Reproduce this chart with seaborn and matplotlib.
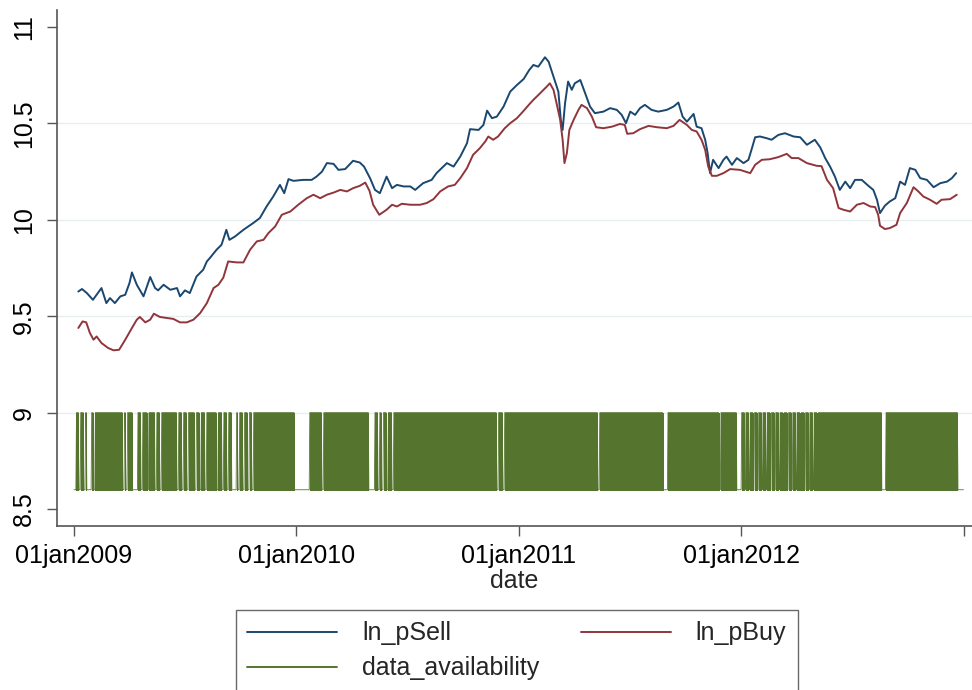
import numpy as np
import pandas as pd
import matplotlib
matplotlib.use("Agg")
import matplotlib.pyplot as plt
from matplotlib.lines import Line2D
import seaborn as sns

# ---- log sell price ----
sell_dates = [
    "2009-01-08", "2009-01-14", "2009-01-22", "2009-02-01", "2009-02-07", "2009-02-15",
    "2009-02-23", "2009-03-01", "2009-03-09", "2009-03-18", "2009-03-26", "2009-04-02",
    "2009-04-06", "2009-04-14", "2009-04-25", "2009-05-06", "2009-05-14", "2009-05-19",
    "2009-05-28", "2009-06-08", "2009-06-19", "2009-06-24", "2009-07-02", "2009-07-10",
    "2009-07-21", "2009-08-01", "2009-08-07", "2009-08-12", "2009-08-23", "2009-08-31",
    "2009-09-08", "2009-09-13", "2009-09-22", "2009-10-06", "2009-10-22", "2009-11-02",
    "2009-11-13", "2009-11-24", "2009-12-05", "2009-12-12", "2009-12-19", "2009-12-27",
    "2010-01-12", "2010-01-26", "2010-02-03", "2010-02-12", "2010-02-20", "2010-03-03",
    "2010-03-11", "2010-03-22", "2010-04-04", "2010-04-15", "2010-04-22", "2010-05-02",
    "2010-05-10", "2010-05-18", "2010-05-29", "2010-06-07", "2010-06-15", "2010-06-26",
    "2010-07-07", "2010-07-15", "2010-07-28", "2010-08-11", "2010-08-19", "2010-09-05",
    "2010-09-16", "2010-09-27", "2010-10-08", "2010-10-13", "2010-10-27", "2010-11-04",
    "2010-11-10", "2010-11-18", "2010-11-26", "2010-12-07", "2010-12-18", "2010-12-29",
    "2011-01-09", "2011-01-18", "2011-01-25", "2011-02-02", "2011-02-13", "2011-02-19",
    "2011-02-27", "2011-03-07", "2011-03-11", "2011-03-14", "2011-03-18", "2011-03-23",
    "2011-03-29", "2011-04-03", "2011-04-12", "2011-04-20", "2011-04-28", "2011-05-06",
    "2011-05-20", "2011-05-31", "2011-06-11", "2011-06-19", "2011-06-26", "2011-07-03",
    "2011-07-11", "2011-07-19", "2011-07-27", "2011-08-07", "2011-08-18", "2011-09-01",
    "2011-09-12", "2011-09-20", "2011-09-27", "2011-10-04", "2011-10-15", "2011-10-20",
    "2011-10-28", "2011-11-03", "2011-11-07", "2011-11-11", "2011-11-16", "2011-11-25",
    "2011-12-03", "2011-12-08", "2011-12-17", "2011-12-25", "2012-01-05", "2012-01-13",
    "2012-01-18", "2012-01-24", "2012-02-01", "2012-02-12", "2012-02-20", "2012-03-02",
    "2012-03-13", "2012-03-27", "2012-04-07", "2012-04-18", "2012-05-01", "2012-05-10",
    "2012-05-18", "2012-05-26", "2012-06-03", "2012-06-11", "2012-06-20", "2012-06-28",
    "2012-07-06", "2012-07-17", "2012-07-28", "2012-08-05", "2012-08-11", "2012-08-16",
    "2012-08-24", "2012-09-01", "2012-09-10", "2012-09-18", "2012-09-26", "2012-10-04",
    "2012-10-13", "2012-10-21", "2012-11-01", "2012-11-12", "2012-11-23", "2012-12-04",
    "2012-12-12", "2012-12-19",
]
sell_values = [
    9.628, 9.641, 9.620, 9.585, 9.611, 9.646,
    9.568, 9.594, 9.568, 9.603, 9.611, 9.672,
    9.727, 9.663, 9.603, 9.703, 9.646, 9.634,
    9.663, 9.637, 9.646, 9.603, 9.634, 9.620,
    9.706, 9.741, 9.784, 9.802, 9.845, 9.870,
    9.948, 9.896, 9.913, 9.948, 9.983, 10.009,
    10.069, 10.121, 10.181, 10.138, 10.211, 10.202,
    10.207, 10.207, 10.224, 10.250, 10.294, 10.290,
    10.259, 10.263, 10.306, 10.297, 10.276, 10.215,
    10.155, 10.138, 10.224, 10.164, 10.181, 10.173,
    10.173, 10.155, 10.190, 10.207, 10.242, 10.294,
    10.276, 10.328, 10.397, 10.470, 10.466, 10.492,
    10.566, 10.527, 10.535, 10.587, 10.665, 10.699,
    10.730, 10.776, 10.803, 10.794, 10.843, 10.820,
    10.743, 10.665, 10.518, 10.466, 10.605, 10.717,
    10.674, 10.708, 10.725, 10.656, 10.587, 10.553,
    10.561, 10.579, 10.570, 10.544, 10.501, 10.561,
    10.544, 10.579, 10.596, 10.570, 10.561, 10.570,
    10.587, 10.608, 10.535, 10.509, 10.549, 10.483,
    10.475, 10.415, 10.346, 10.242, 10.311, 10.268,
    10.311, 10.328, 10.285, 10.320, 10.294, 10.311,
    10.363, 10.428, 10.432, 10.423, 10.415, 10.440,
    10.449, 10.432, 10.428, 10.389, 10.415, 10.375,
    10.320, 10.276, 10.224, 10.155, 10.198, 10.164,
    10.207, 10.207, 10.176, 10.155, 10.104, 10.035,
    10.073, 10.095, 10.112, 10.198, 10.181, 10.268,
    10.259, 10.216, 10.207, 10.169, 10.190, 10.198,
    10.216, 10.242,
]

# ---- log buy price ----
buy_dates = [
    "2009-01-08", "2009-01-15", "2009-01-21", "2009-01-27", "2009-02-02", "2009-02-07",
    "2009-02-15", "2009-02-26", "2009-03-07", "2009-03-16", "2009-03-26", "2009-04-06",
    "2009-04-14", "2009-04-19", "2009-04-28", "2009-05-06", "2009-05-12", "2009-05-22",
    "2009-06-02", "2009-06-13", "2009-06-24", "2009-07-05", "2009-07-16", "2009-07-27",
    "2009-08-07", "2009-08-18", "2009-08-26", "2009-09-03", "2009-09-11", "2009-09-25",
    "2009-10-06", "2009-10-17", "2009-10-28", "2009-11-08", "2009-11-16", "2009-11-27",
    "2009-12-08", "2009-12-22", "2010-01-04", "2010-01-18", "2010-01-29", "2010-02-09",
    "2010-02-20", "2010-03-03", "2010-03-14", "2010-03-25", "2010-04-04", "2010-04-15",
    "2010-04-24", "2010-05-01", "2010-05-07", "2010-05-17", "2010-05-29", "2010-06-07",
    "2010-06-15", "2010-06-23", "2010-07-07", "2010-07-23", "2010-08-03", "2010-08-14",
    "2010-08-25", "2010-09-07", "2010-09-18", "2010-09-27", "2010-10-08", "2010-10-18",
    "2010-10-29", "2010-11-07", "2010-11-12", "2010-11-20", "2010-11-28", "2010-12-09",
    "2010-12-18", "2010-12-29", "2011-01-09", "2011-01-18", "2011-01-25", "2011-02-05",
    "2011-02-16", "2011-02-21", "2011-02-27", "2011-03-04", "2011-03-10", "2011-03-14",
    "2011-03-17", "2011-03-21", "2011-03-25", "2011-04-01", "2011-04-09", "2011-04-14",
    "2011-04-23", "2011-05-01", "2011-05-08", "2011-05-20", "2011-06-03", "2011-06-16",
    "2011-06-24", "2011-06-28", "2011-07-08", "2011-07-19", "2011-08-02", "2011-08-16",
    "2011-09-01", "2011-09-12", "2011-09-22", "2011-10-04", "2011-10-12", "2011-10-20",
    "2011-10-28", "2011-11-03", "2011-11-08", "2011-11-14", "2011-11-22", "2011-12-03",
    "2011-12-14", "2011-12-30", "2012-01-16", "2012-01-24", "2012-02-04", "2012-02-17",
    "2012-03-02", "2012-03-16", "2012-03-24", "2012-04-04", "2012-04-18", "2012-05-04",
    "2012-05-12", "2012-05-21", "2012-05-31", "2012-06-09", "2012-06-17", "2012-06-28",
    "2012-07-09", "2012-07-20", "2012-07-31", "2012-08-08", "2012-08-13", "2012-08-16",
    "2012-08-24", "2012-09-01", "2012-09-12", "2012-09-18", "2012-09-29", "2012-10-10",
    "2012-10-18", "2012-10-26", "2012-11-06", "2012-11-17", "2012-11-25", "2012-12-09",
    "2012-12-20",
]
buy_values = [
    9.439, 9.473, 9.468, 9.413, 9.378, 9.395,
    9.361, 9.335, 9.323, 9.326, 9.378, 9.439,
    9.482, 9.496, 9.468, 9.482, 9.513, 9.496,
    9.491, 9.486, 9.468, 9.468, 9.482, 9.516,
    9.568, 9.646, 9.663, 9.700, 9.784, 9.779,
    9.779, 9.845, 9.888, 9.896, 9.931, 9.965,
    10.026, 10.043, 10.078, 10.112, 10.130, 10.112,
    10.130, 10.141, 10.155, 10.147, 10.164, 10.176,
    10.193, 10.150, 10.078, 10.026, 10.052, 10.078,
    10.069, 10.083, 10.078, 10.078, 10.087, 10.107,
    10.147, 10.173, 10.181, 10.216, 10.268, 10.337,
    10.371, 10.406, 10.432, 10.415, 10.432, 10.475,
    10.501, 10.527, 10.565, 10.598, 10.622, 10.656,
    10.691, 10.708, 10.674, 10.605, 10.518, 10.415,
    10.294, 10.346, 10.466, 10.518, 10.570, 10.596,
    10.579, 10.535, 10.480, 10.475, 10.483, 10.497,
    10.492, 10.446, 10.449, 10.470, 10.487, 10.480,
    10.475, 10.487, 10.518, 10.492, 10.466, 10.458,
    10.415, 10.363, 10.276, 10.228, 10.228, 10.242,
    10.263, 10.259, 10.242, 10.285, 10.311, 10.314,
    10.325, 10.342, 10.320, 10.320, 10.294, 10.280,
    10.278, 10.207, 10.164, 10.061, 10.052, 10.043,
    10.078, 10.087, 10.069, 10.066, 10.026, 9.969,
    9.952, 9.957, 9.974, 10.035, 10.087, 10.169,
    10.147, 10.121, 10.104, 10.083, 10.104, 10.107,
    10.130,
]

# ---- data availability: daily flag, missing spells listed as (first day, length) ----
avail_start = "2009-01-01"
avail_end = "2012-12-31"
avail_levels = (8.6, 9.0)   # value when missing, value when available
gap_starts = [
    "2009-01-01", "2009-01-09", "2009-01-17", "2009-01-22", "2009-02-02", "2009-03-22",
    "2009-03-27", "2009-04-07", "2009-04-21", "2009-05-01", "2009-05-14", "2009-05-22",
    "2009-06-19", "2009-06-27", "2009-07-05", "2009-07-18", "2009-07-26", "2009-08-04",
    "2009-08-23", "2009-09-01", "2009-09-09", "2009-09-17", "2009-09-27", "2009-10-05",
    "2009-10-13", "2009-10-20", "2009-12-29", "2010-02-12", "2010-04-30", "2010-05-15",
    "2010-05-21", "2010-05-29", "2010-06-07", "2010-11-26", "2010-12-06", "2011-05-11",
    "2011-08-26", "2011-11-26", "2011-12-25", "2012-01-07", "2012-01-14", "2012-01-21",
    "2012-01-28", "2012-02-04", "2012-02-11", "2012-02-18", "2012-02-25", "2012-03-03",
    "2012-03-10", "2012-03-17", "2012-03-24", "2012-03-31", "2012-04-07", "2012-04-14",
    "2012-04-21", "2012-04-28", "2012-05-05", "2012-08-19", "2012-12-22",
]
gap_days = [
    4, 3, 3, 8, 3, 3,
    3, 9, 3, 3, 3, 3,
    3, 3, 3, 3, 3, 3,
    3, 3, 3, 8, 3, 3,
    3, 3, 25, 3, 10, 3,
    3, 3, 3, 3, 3, 3,
    8, 3, 8, 2, 2, 2,
    2, 2, 2, 2, 2, 2,
    2, 2, 2, 2, 2, 2,
    2, 2, 2, 7, 10,
]

tick_dates = ["2009-01-01", "2010-01-01", "2011-01-01", "2012-01-01", "2013-01-01"]
tick_labels = ["01jan2009", "01jan2010", "01jan2011", "01jan2012", ""]
y_ticks = [8.5, 9, 9.5, 10, 10.5, 11]
y_tick_labels = ["8.5", "9", "9.5", "10", "10.5", "11"]
grid_levels = [9, 9.5, 10, 10.5]

series_names = ["ln_pSell", "ln_pBuy", "data_availability"]
colors = ["#1a476f", "#90353b", "#55752f"]

sns.set_theme(style="white")
plt.rcParams["font.family"] = ["Liberation Sans", "DejaVu Sans"]

sell = pd.DataFrame({"date": pd.to_datetime(sell_dates), "value": sell_values})
buy = pd.DataFrame({"date": pd.to_datetime(buy_dates), "value": buy_values})

days = pd.date_range(avail_start, avail_end, freq="D")
available = pd.Series(True, index=days)
for start, n in zip(gap_starts, gap_days):
    s = pd.Timestamp(start)
    available.loc[s:s + pd.Timedelta(days=n - 1)] = False
avail = pd.DataFrame({"date": days,
                      "value": np.where(available.values, avail_levels[1], avail_levels[0])})

fig = plt.figure(figsize=(9.72, 6.90), dpi=100)
ax = fig.add_axes([57 / 972, (690 - 526) / 690, (972 - 57) / 972, (526 - 10) / 690])

for g in grid_levels:
    ax.axhline(g, color="#e6eef0", lw=1.0, zorder=0)

# availability: each observed day is a stroke between the two levels
ax.vlines(avail["date"][available.values], avail_levels[0], avail_levels[1],
          color=colors[2], lw=0.5, zorder=2, antialiased=False)
sns.lineplot(data=avail, x="date", y="value", ax=ax, color=colors[2], lw=0.6,
             zorder=2, legend=False)
sns.lineplot(data=sell, x="date", y="value", ax=ax, color=colors[0], lw=1.4,
             zorder=3, legend=False)
sns.lineplot(data=buy, x="date", y="value", ax=ax, color=colors[1], lw=1.4,
             zorder=3, legend=False)

ax.set_xlim(pd.Timestamp("2008-12-04"), pd.Timestamp("2013-01-14"))
ax.set_ylim(8.412, 11.088)
ax.set_xticks(pd.to_datetime(tick_dates))
ax.set_xticklabels(tick_labels, fontsize=18)
ax.set_yticks(y_ticks)
ax.set_yticklabels(y_tick_labels, fontsize=18, rotation=90, va="center")
ax.set_xlabel("date", fontsize=18, labelpad=1)
ax.set_ylabel("")

for side in ["top", "right"]:
    ax.spines[side].set_visible(False)
for side in ["left", "bottom"]:
    ax.spines[side].set_color("#555555")
    ax.spines[side].set_linewidth(1.2)
ax.tick_params(axis="both", which="major", length=7, width=1.0, color="#555555",
               colors="black", direction="out", bottom=True, left=True)
ax.tick_params(axis="x", pad=6)
ax.tick_params(axis="y", pad=8)

handles = [
    Line2D([], [], color=colors[0], lw=1.4),
    Line2D([], [], color=colors[2], lw=1.4),
    Line2D([], [], color=colors[1], lw=1.4),
]
labels = [series_names[0], series_names[2], series_names[1]]
leg = fig.legend(handles, labels, ncol=2, loc="upper left",
                 bbox_to_anchor=(236 / 972, 1 - 610 / 690), borderaxespad=0,
                 fontsize=18, frameon=True, fancybox=False, handlelength=3.6,
                 handletextpad=1.0, columnspacing=1.65, labelspacing=0.45,
                 borderpad=0.45)
leg.get_frame().set_edgecolor("#444444")
leg.get_frame().set_linewidth(1.0)

fig.savefig("out.png", dpi=100, facecolor="white")
